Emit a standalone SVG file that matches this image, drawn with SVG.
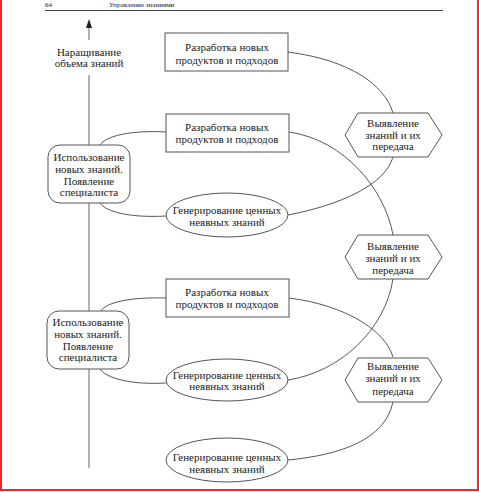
<svg xmlns="http://www.w3.org/2000/svg" width="479" height="492" viewBox="0 0 479 492">
<style>
text{font-family:"Liberation Serif","Times New Roman",serif;font-size:11px;fill:#222;text-anchor:middle}
.n{fill:#fff;stroke:#555;stroke-width:1}
.c{fill:none;stroke:#444;stroke-width:0.9}
.h{font-size:7px;text-anchor:start}
</style>
<rect width="479" height="492" fill="#fff"/>
<path d="M1,0 V490 H478 V0" fill="none" stroke="#f22" stroke-width="2"/>
<g id="header">
<text class="h" x="45" y="7">64</text>
<text class="h" x="109" y="7">Управление знаниями</text>
<line x1="45" y1="10.5" x2="443" y2="10.5" stroke="#444" stroke-width="1"/>
</g>
<g id="axis">
<line x1="89" y1="40" x2="89" y2="24" stroke="#999" stroke-width="1.5"/>
<path d="M86,28 L89,19 L92,28 Z" fill="#222"/>
<line x1="89" y1="75" x2="89" y2="468" stroke="#999" stroke-width="1.5"/>
<text x="89" y="56">Наращивание</text>
<text x="89" y="67">объема знаний</text>
</g>
<g id="connectors">
<path class="c" d="M288,52 C350,60 385,85 393,113"/>
<path class="c" d="M289,132 C345,140 385,190 393,235"/>
<path class="c" d="M288,215 C340,205 385,185 393,157"/>
<path class="c" d="M166,132 C130,130 106,136 100,145"/>
<path class="c" d="M166,216 C130,218 106,212 100,203"/>
<path class="c" d="M289,298 C345,305 385,330 393,357"/>
<path class="c" d="M393,279 C385,330 340,372 288,380"/>
<path class="c" d="M166,298 C130,297 106,302 100,312"/>
<path class="c" d="M166,383 C130,385 106,378 100,369"/>
<path class="c" d="M393,402 C385,440 340,455 288,460"/>
</g>
<g id="box1"><rect class="n" x="165" y="33" width="123" height="38"/>
<text x="227" y="51">Разработка новых</text><text x="227" y="64">продуктов и подходов</text></g>
<g id="box2"><rect class="n" x="166" y="114" width="123" height="38"/>
<text x="227" y="131">Разработка новых</text><text x="227" y="143">продуктов и подходов</text></g>
<g id="box3"><rect class="n" x="166" y="279" width="123" height="38"/>
<text x="227" y="296">Разработка новых</text><text x="227" y="308">продуктов и подходов</text></g>
<g id="use1"><rect class="n" x="48" y="145" width="82" height="58" rx="12"/>
<text x="89" y="161">Использование</text><text x="89" y="173">новых знаний.</text><text x="89" y="185">Появление</text><text x="89" y="196">специалиста</text></g>
<g id="use2"><rect class="n" x="47" y="311" width="82" height="58" rx="12"/>
<text x="88" y="326">Использование</text><text x="88" y="338">новых знаний.</text><text x="88" y="350">Появление</text><text x="88" y="361">специалиста</text></g>
<g id="gen1"><ellipse class="n" cx="227" cy="215" rx="61" ry="22"/>
<text x="227" y="214">Генерирование ценных</text><text x="227" y="226">неявных знаний</text></g>
<g id="gen2"><ellipse class="n" cx="227" cy="380" rx="61" ry="21"/>
<text x="227" y="379">Генерирование ценных</text><text x="227" y="390">неявных знаний</text></g>
<g id="gen3"><ellipse class="n" cx="227" cy="460" rx="61" ry="22"/>
<text x="227" y="461">Генерирование ценных</text><text x="227" y="473">неявных знаний</text></g>
<g id="hex1"><polygon class="n" points="345,135 358,113 428,113 442,135 428,157 358,157"/>
<text x="393" y="127">Выявление</text><text x="393" y="139">знаний и их</text><text x="393" y="150">передача</text></g>
<g id="hex2"><polygon class="n" points="345,257 358,235 428,235 442,257 428,279 358,279"/>
<text x="393" y="250">Выявление</text><text x="393" y="262">знаний и их</text><text x="393" y="274">передача</text></g>
<g id="hex3"><polygon class="n" points="345,380 358,358 428,358 442,380 428,402 358,402"/>
<text x="393" y="370">Выявление</text><text x="393" y="382">знаний и их</text><text x="393" y="395">передача</text></g>
</svg>
